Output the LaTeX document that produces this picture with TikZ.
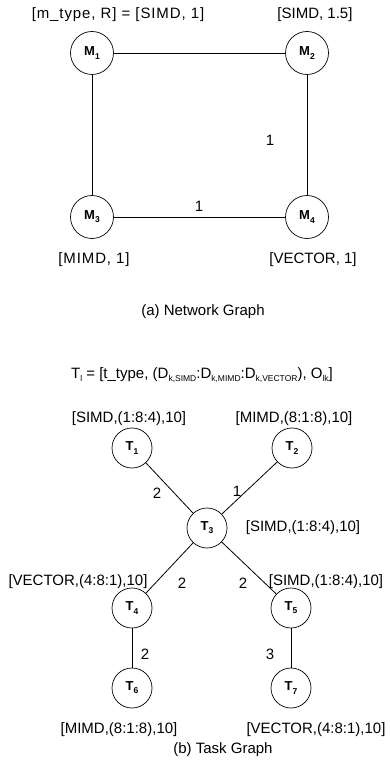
\documentclass[tikz,border=0pt]{standalone}
\usepackage{fontspec}
\setmainfont{Liberation Sans}
% small lowered index used in node names and in the tuple definition
\newcommand{\lowsub}[1]{\raisebox{-0.45ex}{\fontsize{8.5}{8.5}\selectfont #1}}
\begin{document}
\begin{tikzpicture}[x=1pt,y=-1pt,
  vertex/.style={circle,draw,line width=0.7pt,minimum size=43pt,inner sep=0pt,
    font=\fontsize{13}{13}\selectfont\bfseries},
  task/.style={vertex,minimum size=40pt},
  lbl/.style={font=\fontsize{15}{17}\selectfont,inner sep=0pt},
  wide/.style={font=\fontsize{15}{17}\selectfont\addfontfeature{LetterSpace=6}},
  link/.style={line width=0.8pt}]
\useasboundingbox (0,0) rectangle (390,767);

% ---------- (a) network graph ----------
\node[vertex] (m1) at (92,53)  {M\lowsub{1}};
\node[vertex] (m2) at (307,53) {M\lowsub{2}};
\node[vertex] (m3) at (92,217) {M\lowsub{3}};
\node[vertex] (m4) at (307,217){M\lowsub{4}};

\draw[link] (m1) -- (m2);
\draw[link] (m1) -- (m3);
\draw[link] (m2) -- (m4);
\draw[link] (m3) -- (m4);

\node[lbl] (w24) at (270,140) {1};
\node[lbl] (w34) at (199,206) {1};

\node[lbl,wide] (l1) at (118,15)  {[m\_type, R] = [SIMD, 1]};
\node[lbl] (l2) at (315,15)  {[SIMD, 1.5]};
\node[lbl,wide] (l3) at (94,260)  {[MIMD, 1]};
\node[lbl] (l4) at (313,260) {[VECTOR, 1]};

\node[lbl] (capa) at (203,312) {(a) Network Graph};

% ---------- (b) task graph ----------
\node[lbl] (def) at (202,375)
  {T\lowsub{l} = [t\_type, (D\lowsub{k,SIMD}:D\lowsub{k,MIMD}:D\lowsub{k,VECTOR}), O\lowsub{lk}]};

\node[task] (t1) at (132,448) {T\lowsub{1}};
\node[task] (t2) at (292,448) {T\lowsub{2}};
\node[task] (t3) at (207,528) {T\lowsub{3}};
\node[task] (t4) at (132,608) {T\lowsub{4}};
\node[task] (t5) at (291,608) {T\lowsub{5}};
\node[task] (t6) at (132,688) {T\lowsub{6}};
\node[task] (t7) at (291,688) {T\lowsub{7}};

\draw[link] (t1) -- (t3);
\draw[link] (t2) -- (t3);
\draw[link] (t3) -- (t4);
\draw[link] (t3) -- (t5);
\draw[link] (t4) -- (t6);
\draw[link] (t5) -- (t7);

\node[lbl] (w13) at (157,493) {2};
\node[lbl] (w23) at (237,491) {1};
\node[lbl] (w34b) at (182,583) {2};
\node[lbl] (w35) at (243,583) {2};
\node[lbl] (w46) at (145,654) {2};
\node[lbl] (w57) at (270,654) {3};

\node[lbl] (a1) at (129,419) {[SIMD,(1:8:4),10]};
\node[lbl] (a2) at (294,419) {[MIMD,(8:1:8),10]};
\node[lbl] (a3) at (303,528) {[SIMD,(1:8:4),10]};
\node[lbl] (a4) at (78,582)  {[VECTOR,(4:8:1),10]};
\node[lbl] (a5) at (326,582) {[SIMD,(1:8:4),10]};
\node[lbl] (a6) at (119,730) {[MIMD,(8:1:8),10]};
\node[lbl] (a7) at (316,730) {[VECTOR,(4:8:1),10]};

\node[lbl] (capb) at (223,750) {(b) Task Graph};
\end{tikzpicture}
\end{document}
